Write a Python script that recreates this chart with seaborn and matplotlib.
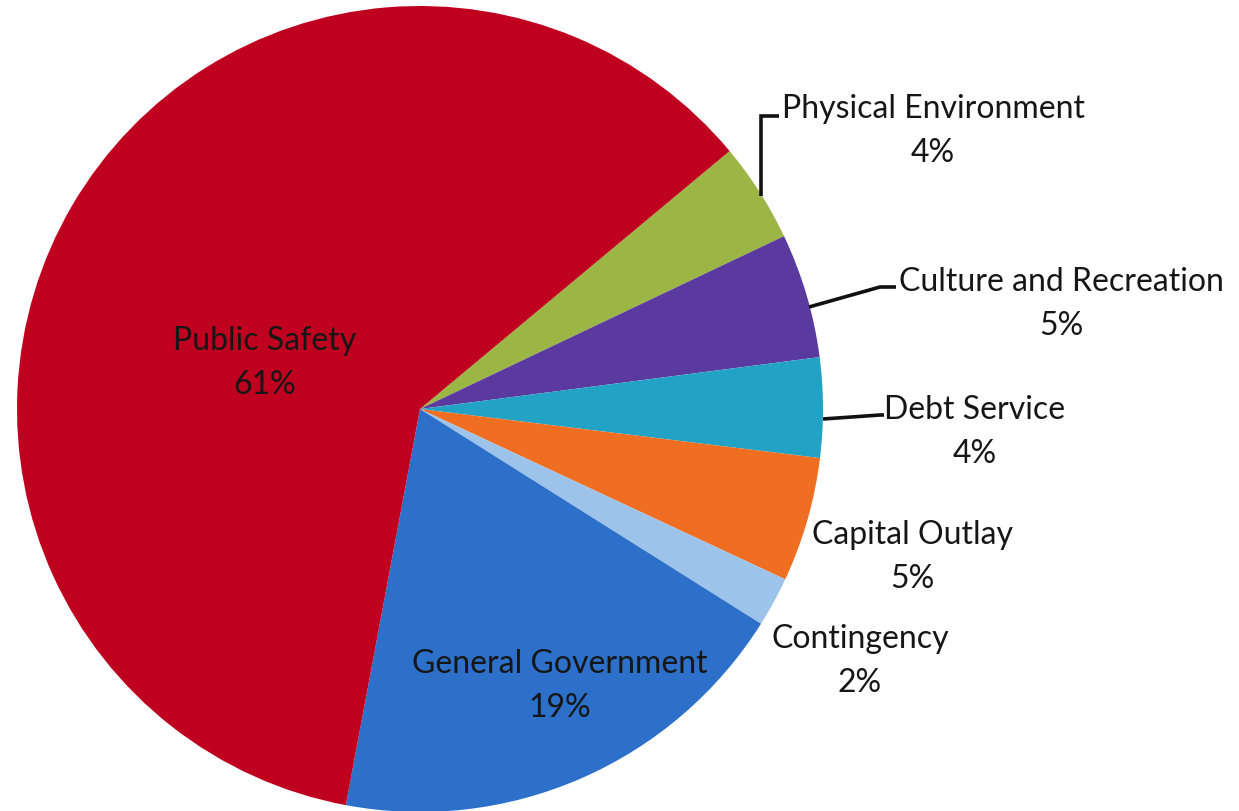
import matplotlib
matplotlib.use("Agg")
import matplotlib.pyplot as plt
import seaborn as sns

# Budget share by function (percent), clockwise from the olive slice
categories = ["Physical Environment", "Culture and Recreation", "Debt Service",
              "Capital Outlay", "Contingency", "General Government", "Public Safety"]
shares = [4, 5, 4, 5, 2, 19, 61]
slice_colors = ["#9CB646", "#5A3A9F", "#22A3C6", "#F06E22", "#9DC3EA", "#2C70C9", "#C0001F"]

sns.set_theme(style="white")
plt.rcParams["font.family"] = ["Lato", "DejaVu Sans"]

W, H = 1239, 812
fig = plt.figure(figsize=(W / 100, H / 100), dpi=100)
ax = fig.add_axes([0, 0, 1, 1])

cx, cy, r = 420, H - 410, 403
palette = sns.color_palette(slice_colors)
ax.pie(shares, colors=palette, startangle=39.8, counterclock=False,
       center=(cx, cy), radius=r, frame=True,
       wedgeprops=dict(linewidth=0))
ax.set_xlim(0, W)
ax.set_ylim(0, H)
ax.set_aspect("equal")
ax.axis("off")

txt = dict(fontsize=23, color="#161616", ha="center", va="center", linespacing=1.55)

# label block centres in pixel coordinates (x, y from top)
label_pos = {
    "Physical Environment": (933, 131),
    "Culture and Recreation": (1061, 304),
    "Debt Service": (975, 432),
    "Capital Outlay": (912, 557),
    "Contingency": (860, 661),
    "General Government": (560, 686),
    "Public Safety": (265, 363),
}
for name, val in zip(categories, shares):
    x, y = label_pos[name]
    ax.text(x, H - y, f"{name}\n{val}%", **txt)

# leader lines
leaders = [
    [(761, 197), (761, 117), (779, 117)],
    [(809, 308), (880, 288), (896, 288)],
    [(823, 420), (880, 416), (884, 416)],
]
for pts in leaders:
    xs = [p[0] for p in pts]
    ys = [H - p[1] for p in pts]
    ax.plot(xs, ys, color="#111111", lw=2.6, solid_capstyle="butt", solid_joinstyle="miter")

fig.savefig("out.png", dpi=100, facecolor="white")
